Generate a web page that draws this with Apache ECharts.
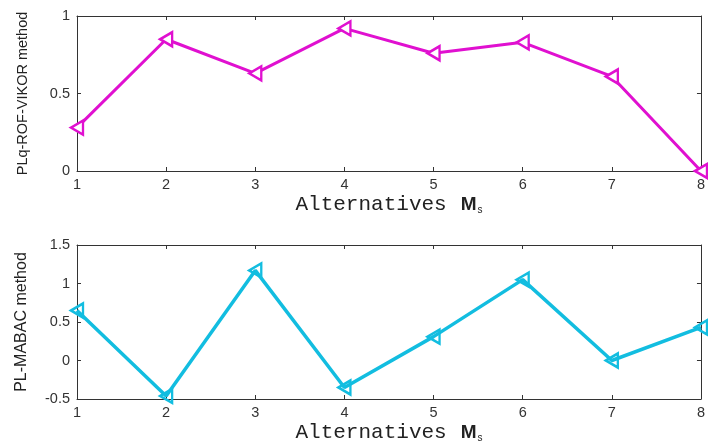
<!DOCTYPE html>
<html>
<head>
<meta charset="utf-8">
<script src="https://cdn.jsdelivr.net/npm/echarts@6/dist/echarts.min.js"></script>
<style>
  html, body { margin: 0; padding: 0; background: #fff; }
  #main { width: 708px; height: 448px; }
</style>
</head>
<body>
<div id="main"></div>
<script>
var alternatives = [1, 2, 3, 4, 5, 6, 7, 8];
var vikorValues = [0.28, 0.85, 0.63, 0.92, 0.76, 0.83, 0.61, 0.0];
var mabacValues = [0.65, -0.46, 1.17, -0.35, 0.31, 1.05, 0.0, 0.43];

var chart = echarts.init(document.getElementById('main'));

function pairs(vals) {
  return alternatives.map(function (a, i) { return [a, vals[i]]; });
}

// x axis name: typewriter text + bold M with subscript
var xName = '{a|Alternatives}{m|M}{s|s}';
var xNameRich = {
  a: { fontFamily: 'Liberation Mono', fontSize: 21, color: '#222' },
  m: { fontFamily: 'Liberation Sans', fontSize: 19, fontWeight: 'bold', color: '#222', padding: [0, 1, 0, 14] },
  s: { fontFamily: 'Liberation Sans', fontSize: 10, color: '#222', verticalAlign: 'bottom', padding: [10, 0, 0, 0] }
};

var tickLabel = { color: '#333', fontFamily: 'Liberation Sans', fontSize: 14.5 };
var axisLineStyle = { onZero: false, lineStyle: { color: '#333', width: 1 } };

function bottomX(gridIndex) {
  return {
    gridIndex: gridIndex,
    type: 'value',
    min: 1, max: 8, interval: 1,
    axisLine: axisLineStyle,
    axisTick: { inside: true, length: 4, lineStyle: { color: '#333' } },
    axisLabel: Object.assign({ margin: 6 }, tickLabel),
    splitLine: { show: false },
    name: xName,
    nameLocation: 'middle',
    nameGap: 23,
    nameTextStyle: { rich: xNameRich }
  };
}
function topX(gridIndex) {
  return {
    gridIndex: gridIndex,
    type: 'value',
    position: 'top',
    min: 1, max: 8, interval: 1,
    axisLine: axisLineStyle,
    axisTick: { inside: true, length: 4, lineStyle: { color: '#333' } },
    axisLabel: { show: false },
    splitLine: { show: false }
  };
}
function leftY(gridIndex, min, max, name, nameSize) {
  return {
    gridIndex: gridIndex,
    type: 'value',
    min: min, max: max, interval: 0.5,
    axisLine: { show: true, onZero: false, lineStyle: { color: '#333', width: 1 } },
    axisTick: { show: true, inside: true, length: 4, lineStyle: { color: '#333' } },
    axisLabel: Object.assign({ margin: 7 }, tickLabel),
    splitLine: { show: false },
    name: name,
    nameLocation: 'middle',
    nameRotate: 90,
    nameGap: 47,
    nameTextStyle: { fontFamily: 'Liberation Sans', fontSize: nameSize, color: '#222' }
  };
}
function rightY(gridIndex, min, max) {
  return {
    gridIndex: gridIndex,
    type: 'value',
    position: 'right',
    min: min, max: max, interval: 0.5,
    axisLine: { show: true, onZero: false, lineStyle: { color: '#333', width: 1 } },
    axisTick: { show: true, inside: true, length: 4, lineStyle: { color: '#333' } },
    axisLabel: { show: false },
    splitLine: { show: false }
  };
}

var option = {
  animation: false,
  backgroundColor: '#fff',
  grid: [
    { left: 77, right: 4, top: 16, height: 155 },
    { left: 77, right: 4, top: 245, height: 154 }
  ],
  xAxis: [bottomX(0), topX(0), bottomX(1), topX(1)],
  yAxis: [
    leftY(0, 0, 1, 'PLq-ROF-VIKOR method', 14.5),
    rightY(0, 0, 1),
    leftY(1, -0.5, 1.5, 'PL-MABAC method', 16),
    rightY(1, -0.5, 1.5)
  ],
  series: [
    {
      type: 'line',
      xAxisIndex: 0, yAxisIndex: 0,
      data: pairs(vikorValues),
      clip: false,
      symbol: 'triangle',
      symbolRotate: 90,
      symbolSize: [14, 12],
      lineStyle: { color: '#e010d0', width: 3 },
      itemStyle: { color: '#fff', borderColor: '#e010d0', borderWidth: 2.5 }
    },
    {
      type: 'line',
      xAxisIndex: 2, yAxisIndex: 2,
      data: pairs(mabacValues),
      clip: false,
      symbol: 'triangle',
      symbolRotate: 90,
      symbolSize: [14, 12],
      lineStyle: { color: '#12bde0', width: 3.5 },
      itemStyle: { color: 'rgba(255,255,255,0)', borderColor: '#12bde0', borderWidth: 2.5 }
    }
  ]
};

chart.setOption(option);
</script>
</body>
</html>
